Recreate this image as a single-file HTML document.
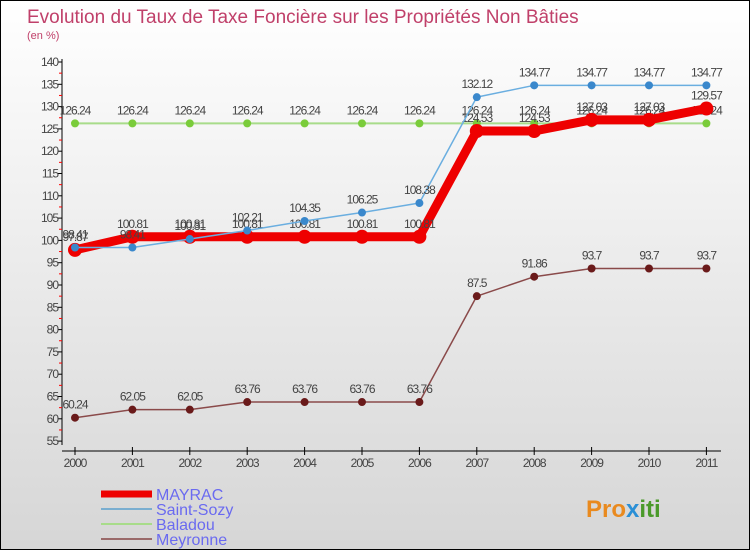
<!DOCTYPE html>
<html><head><meta charset="utf-8"><style>
body{margin:0}
#c{position:relative;width:748px;height:548px;border:1px solid #000;background:linear-gradient(#fff,#d6d6d6);font-family:"Liberation Sans",sans-serif;overflow:hidden}
</style></head><body>
<div id="c">
<svg id="s" width="748" height="548" xmlns="http://www.w3.org/2000/svg" style="position:absolute;left:0;top:0">
<text x="26" y="22" font-size="19" fill="#c0406a">Evolution du Taux de Taxe Foncière sur les Propriétés Non Bâties</text>
<text x="26" y="38" font-size="11" fill="#c0406a">(en %)</text>
<g id="axes"></g><g id="series"></g><g id="legend"></g>
<text x="585" y="516" font-size="24" font-weight="bold" fill="#e98a1f">Pro<tspan fill="#2a8fd6">x</tspan><tspan fill="#4a9a2a">iti</tspan></text>
</svg>
</div>
<script>
const years=[2000,2001,2002,2003,2004,2005,2006,2007,2008,2009,2010,2011];
const mayrac=[97.87,100.81,100.81,100.81,100.81,100.81,100.81,124.53,124.53,127.03,127.03,129.57];
const saintSozy=[98.41,98.41,100.31,102.21,104.35,106.25,108.38,132.12,134.77,134.77,134.77,134.77];
const baladou=[126.24,126.24,126.24,126.24,126.24,126.24,126.24,126.24,126.24,126.24,126.24,126.24];
const meyronne=[60.24,62.05,62.05,63.76,63.76,63.76,63.76,87.5,91.86,93.7,93.7,93.7];
const yTicks=[55,60,65,70,75,80,85,90,95,100,105,110,115,120,125,130,135,140];
const NS="http://www.w3.org/2000/svg";
const X=i=>74+i*57.4, Y=v=>61+(140-v)*4.46;
function el(t,a,p){const e=document.createElementNS(NS,t);for(const k in a)e.setAttribute(k,a[k]);p.appendChild(e);return e;}
const ax=document.getElementById('axes');
const yl=el('line',{x1:61,y1:58,x2:61,y2:444,stroke:'#000'},ax);


yTicks.forEach(v=>{
 el('line',{x1:57,x2:61,y1:Y(v),y2:Y(v),stroke:'#000'},ax);
 if(v<140)el('line',{x1:58,x2:61,y1:Y(v+2.5),y2:Y(v+2.5),stroke:'red'},ax);
 const t=el('text',{x:57,y:Y(v)+4,'font-size':12,fill:'#444','text-anchor':'end','letter-spacing':'-1'},ax);
 t.textContent=v;
 
 
});
const xl=el('line',{x1:61,y1:450,x2:720,y2:450,stroke:'#000'},ax);


years.forEach((y,i)=>{
 el('line',{x1:X(i),x2:X(i),y1:446,y2:454,stroke:'#000'},ax);
 const t=el('text',{x:X(i),y:466,'font-size':12,fill:'#444','text-anchor':'middle','letter-spacing':'-1'},ax);
 t.textContent=y;
 
 
});
const sg=document.getElementById('series');
function draw(vals,color,w,r,dot,name){
 const g=el('g',{},sg);
 
 
 el('polyline',{points:vals.map((v,i)=>X(i)+','+Y(v)).join(' '),fill:'none',stroke:color,'stroke-width':w,'stroke-linejoin':'round'},g);
 vals.forEach((v,i)=>{
  const c=el('circle',{cx:X(i),cy:Y(v),r:r,fill:dot},g);
  
  
  const t=el('text',{x:X(i),y:Y(v)-9,'font-size':12,fill:'#444','text-anchor':'middle','letter-spacing':'-1'},g);
  t.textContent=v;
  
  
 });
}
draw(meyronne,'#8a4a4a',1.5,4,'#6a1a1a','meyronne-series');
draw(baladou,'#a8dc8a',2,4,'#7acc3a','baladou-series');
draw(mayrac,'#ee0000',9,7,'#ee0000','mayrac-series');
draw(saintSozy,'#6aaee0',1.5,4,'#3a88cc','saint-sozy-series');
const lg=document.getElementById('legend');
[['MAYRAC','#ee0000',7],['Saint-Sozy','#7aaed0',2],['Baladou','#a8dc8a',2],['Meyronne','#9a6a6a',2]].forEach((d,i)=>{
 const y=493+i*15;
 const g=el('g',{},lg);
 
 
 el('line',{x1:100,x2:151,y1:y,y2:y,stroke:d[1],'stroke-width':d[2]},g);
 const t=el('text',{x:155,y:y+6,'font-size':16,fill:'#6a6af0'},g);
 t.textContent=d[0];
});
</script>
</body></html>
